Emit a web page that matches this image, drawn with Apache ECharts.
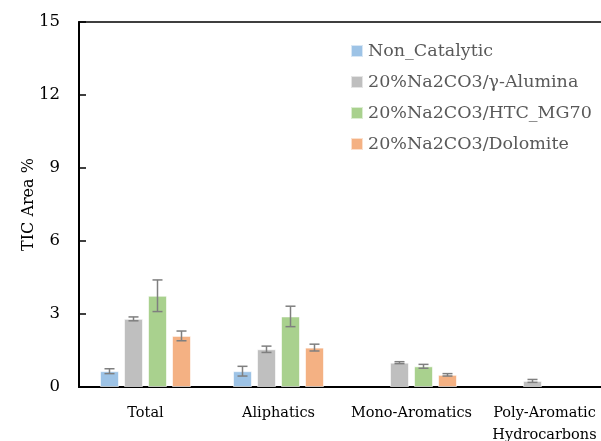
<!DOCTYPE html>
<html><head><meta charset="utf-8">
<script src="https://cdn.jsdelivr.net/npm/echarts@6/dist/echarts.min.js"></script>
<style>html,body{margin:0;padding:0;background:#fff;overflow:hidden}#c{width:601px;height:441px}</style>
</head><body><div id="c"></div>
<script>
var categories = ['Total', 'Aliphatics', 'Mono-Aromatics', 'Poly-Aromatic\nHydrocarbons'];
var seriesNames = ['Non_Catalytic', '20%Na2CO3/\u03b3-Alumina', '20%Na2CO3/HTC_MG70', '20%Na2CO3/Dolomite'];
var nonCatalytic = [0.65, 0.65, null, null];
var alumina = [2.80, 1.55, 1.00, 0.25];
var htc = [3.75, 2.90, 0.85, null];
var dolomite = [2.10, 1.62, 0.50, null];
var errNonCatalytic = [0.10, 0.20, null, null];
var errAlumina = [0.08, 0.13, 0.04, 0.06];
var errHtc = [0.65, 0.42, 0.08, null];
var errDolomite = [0.20, 0.14, 0.05, null];
var yTicks = [0, 3, 6, 9, 12, 15];

var values = [nonCatalytic, alumina, htc, dolomite];
var errors = [errNonCatalytic, errAlumina, errHtc, errDolomite];
var colors = ['#9DC3E6', '#BFBFBF', '#A9D18E', '#F4B183'];
var FONT = 'DejaVu Serif';
var BW = 19, GAP = 5;

var series = [];
values.forEach(function (v, i) {
  series.push({
    name: seriesNames[i], type: 'bar', data: v, barWidth: BW, barGap: (GAP / BW * 100) + '%',
    itemStyle: { color: colors[i], borderColor: 'rgba(255,255,255,0.6)', borderWidth: 1 }, z: 2
  });
});
values.forEach(function (v, i) {
  var d = [];
  v.forEach(function (val, j) { if (val != null && errors[i][j] != null) d.push([j, val - errors[i][j], val + errors[i][j]]); });
  series.push({
    type: 'custom', data: d, z: 5, silent: true,
    renderItem: function (params, api) {
      var x = api.value(0);
      var lo = api.coord([x, api.value(1)]);
      var hi = api.coord([x, api.value(2)]);
      var off = (i - 1.5) * (BW + GAP);
      var cx = lo[0] + off, hw = 5;
      var st = { stroke: '#7F7F7F', lineWidth: 1.5 };
      return { type: 'group', children: [
        { type: 'line', shape: { x1: cx, y1: lo[1], x2: cx, y2: hi[1] }, style: st },
        { type: 'line', shape: { x1: cx - hw, y1: lo[1], x2: cx + hw, y2: lo[1] }, style: st },
        { type: 'line', shape: { x1: cx - hw, y1: hi[1], x2: cx + hw, y2: hi[1] }, style: st }
      ]};
    }
  });
});

var chart = echarts.init(document.getElementById('c'));
chart.setOption({
  animation: false,
  textStyle: { fontFamily: FONT },
  grid: { left: 79, top: 22, width: 532, height: 365, containLabel: false, outerBoundsMode: 'none',
    show: true, borderColor: '#000', borderWidth: 1.5, backgroundColor: 'transparent' },
  legend: {
    data: seriesNames, orient: 'vertical', left: 345, top: 36, itemGap: 11, itemWidth: 12, itemHeight: 12,
    icon: 'rect', textStyle: { fontFamily: FONT, fontSize: 17.5, lineHeight: 20, color: '#595959' }
  },
  xAxis: {
    type: 'category', data: categories,
    axisLine: { lineStyle: { color: '#000', width: 2 } }, axisTick: { show: false },
    axisLabel: { fontFamily: FONT, fontSize: 14.5, color: '#000', margin: 15, lineHeight: 22, interval: 0 }
  },
  yAxis: {
    type: 'value', min: yTicks[0], max: yTicks[yTicks.length - 1], interval: 3,
    name: 'TIC Area %', nameLocation: 'middle', nameGap: 42, nameRotate: 90, nameMoveOverlap: false,
    nameTextStyle: { fontFamily: FONT, fontSize: 16, color: '#000' },
    axisLine: { show: true, lineStyle: { color: '#000', width: 2 } },
    axisTick: { show: true, inside: true, length: 7, lineStyle: { color: '#000', width: 1.5 } },
    splitLine: { show: false },
    axisLabel: { fontFamily: FONT, fontSize: 16.5, color: '#000', margin: 19 }
  },
  series: series
});
</script></body></html>
